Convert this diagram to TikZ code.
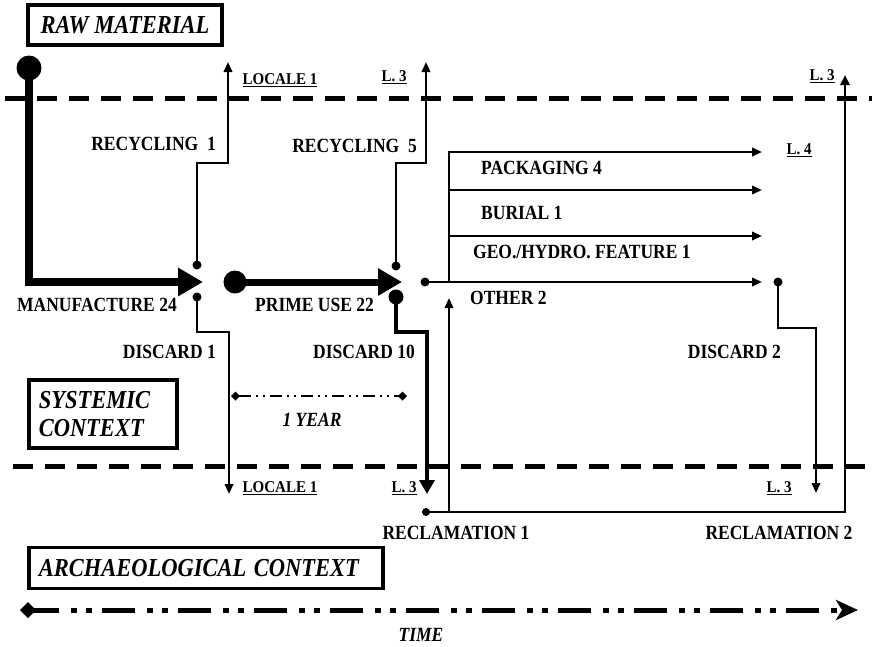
\documentclass[tikz,border=0pt]{standalone}
\usepackage{fontspec}
\setmainfont{Liberation Serif}
\usetikzlibrary{arrows.meta,positioning}

\tikzset{
  lbl/.style={font=\bfseries\fontsize{17.5}{20}\selectfont, inner sep=0pt, yscale=1.15, transform shape},
  loc/.style={font=\bfseries\fontsize{15}{17}\selectfont, inner sep=0pt, yscale=1.1, transform shape},
  ital/.style={font=\bfseries\itshape\fontsize{17.5}{20}\selectfont, inner sep=0pt, yscale=1.15, transform shape},
  ctx/.style={draw, line width=3.5pt, font=\bfseries\itshape\fontsize{22.5}{24.5}\selectfont,
              inner sep=0pt, align=left, yscale=1.15, transform shape},
  blob/.style={circle, fill, inner sep=0pt, minimum size=#1},
  blob/.default=9pt,
  flow/.style={line width=2.2pt, -{Triangle[length=10pt,width=8.5pt]}},
  border/.style={line width=5pt, dash pattern=on 20pt off 12pt},
}

\begin{document}
\begin{tikzpicture}[x=1pt,y=1pt]
\useasboundingbox (0,0) rectangle (872,-646);

% context borders
\draw[border] (5,-98) -- (872,-98);
\draw[border] (13,-466) -- (872,-466);

% context boxes
\node[ctx, minimum width=194pt, minimum height=35pt] (raw) at (125,-25) {RAW MATERIAL};
\node[ctx, anchor=west, text width=128pt, inner xsep=10pt, minimum height=59pt] (sys) at (27,-414) {SYSTEMIC\\CONTEXT};
\node[ctx, anchor=west, text width=334pt, inner xsep=10pt, minimum height=36pt] (arch) at (27,-568) {ARCHAEOLOGICAL CONTEXT};

% raw material -> manufacture
\node[blob=25pt] (src) at (29,-68) {};
\coordinate (mfg) at (203,-282);
\draw[line width=8pt, -{Triangle[length=25pt,width=27pt]}] (src.center) |- (mfg);

% recycling 1 / discard 1
\node[blob] (r1) at (197,-265) {};
\coordinate (r1top) at (228,-62);
\draw[flow] (r1.center) -- ++(0,102) -| (r1top);
\node[blob] (d1) at (197,-297) {};
\coordinate (d1end) at (229,-494);
\draw[flow] (d1.center) -- ++(0,-35) -| (d1end);

% prime use
\node[blob=23pt] (use) at (235,-282) {};
\coordinate (usetip) at (402,-282);
\draw[line width=7pt, -{Triangle[length=24pt,width=26pt]}] (use.center) -- (usetip);

% recycling 5 / discard 10
\node[blob] (r5) at (396,-266) {};
\coordinate (r5top) at (426,-62);
\draw[flow] (r5.center) -- ++(0,103) -| (r5top);
\node[blob=15pt] (d10) at (396,-297) {};
\coordinate (d10end) at (427,-494);
\draw[line width=4pt, -{Triangle[length=14pt,width=15pt]}] (d10.center) -- ++(0,-35) -| (d10end);

% secondary uses
\node[blob] (hub) at (425,-282) {};
\coordinate (fork) at (449,-282);
\coordinate (oth) at (762,-282);
\coordinate (pkg) at (762,-152);
\coordinate (bur) at (762,-190);
\coordinate (geo) at (762,-236);
\draw[flow] (hub.center) -- (oth);
\draw[flow] (fork) |- (pkg);
\draw[flow] (fork |- bur) -- (bur);
\draw[flow] (fork |- geo) -- (geo);

% discard 2
\node[blob] (d2) at (778,-282) {};
\coordinate (d2end) at (816,-493);
\draw[flow] (d2.center) -- ++(0,-46) -| (d2end);

% reclamation
\node[blob=8pt] (recl) at (426,-512) {};
\coordinate (rc2) at (845,-75);
\coordinate (rc1) at (449,-298);
\draw[line width=2.6pt, -{Triangle[length=10pt,width=9pt]}] (recl.center) -| (rc2);
\draw[flow] (rc1 |- recl) -- (rc1);

% one year span
\coordinate (yr0) at (231,-396);
\coordinate (yr1) at (407,-396);
\draw[line width=1.2pt, dash pattern=on 12pt off 5pt on 2pt off 5pt on 2pt off 5pt,
      {Diamond[length=9pt,width=9pt]}-{Diamond[length=9pt,width=9pt]}] (yr0) -- (yr1);
\node[ital] (yr) at (312,-420) {1 YEAR};

% time axis
\coordinate (t0) at (20,-610);
\coordinate (t1) at (858,-610);
\draw[line width=5pt, dash pattern=on 33pt off 12pt on 6pt off 9pt on 6pt off 10pt, dash phase=6pt,
      {Diamond[length=16pt,width=16pt]}-{Stealth[length=22pt,width=20pt,inset=6pt]}] (t0) -- (t1);
\node[ital] (time) at (421,-635) {TIME};

% labels
\node[loc] (loc1a) at (280,-80) {\underline{LOCALE 1}};
\node[loc] (l3a) at (394,-77) {\underline{L. 3}};
\node[loc] (l3b) at (822,-76) {\underline{L. 3}};
\node[loc] (l4) at (799,-150) {\underline{L. 4}};
\node[loc] (loc1b) at (280,-488) {\underline{LOCALE 1}};
\node[loc] (l3c) at (404,-488) {\underline{L. 3}};
\node[loc] (l3d) at (779,-488) {\underline{L. 3}};

\node[lbl, anchor=east] (rec1) at (216,-144) {RECYCLING\ \ 1};
\node[lbl, anchor=east] (rec5) at (417,-146) {RECYCLING\ \ 5};
\node[lbl, anchor=west] (pack) at (481,-168) {PACKAGING 4};
\node[lbl, anchor=west] (buri) at (481,-213) {BURIAL 1};
\node[lbl, anchor=west] (geof) at (473,-252) {GEO./HYDRO. FEATURE 1};
\node[lbl, anchor=west] (othr) at (470,-298) {OTHER 2};
\node[lbl, anchor=east] (manu) at (177,-305) {MANUFACTURE 24};
\node[lbl, anchor=west] (prim) at (255,-305) {PRIME USE 22};
\node[lbl, anchor=east] (dis1) at (216,-352) {DISCARD 1};
\node[lbl, anchor=east] (dis10) at (415,-352) {DISCARD 10};
\node[lbl, anchor=east] (dis2) at (781,-352) {DISCARD 2};
\node[lbl] (recla1) at (456,-533) {RECLAMATION 1};
\node[lbl] (recla2) at (779,-533) {RECLAMATION 2};
\end{tikzpicture}
\end{document}
